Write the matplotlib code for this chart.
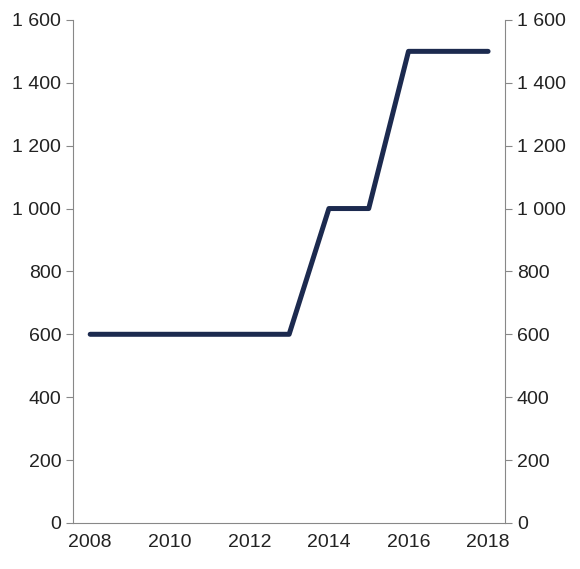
import matplotlib.pyplot as plt
from matplotlib.ticker import FuncFormatter

plt.rcParams['font.family'] = ['Liberation Sans', 'DejaVu Sans']

years = [2008, 2009, 2010, 2011, 2012, 2013, 2014, 2015, 2016, 2017, 2018]
values = [600, 600, 600, 600, 600, 600, 1000, 1000, 1500, 1500, 1500]

fig = plt.figure(figsize=(5.8, 5.69), dpi=100)
ax = fig.add_axes([0.126, 0.081, 0.745, 0.884])
ax.plot(years, values, color='#1c2a4f', lw=3.6, solid_capstyle='round', solid_joinstyle='round')

ax.set_xlim(2007.57, 2018.43)
ax.set_ylim(0, 1600)
ax.set_xticks(range(2008, 2019, 2))
ax.set_yticks(range(0, 1601, 200))
fmt = FuncFormatter(lambda v, p: f"{int(v):,}".replace(",", " "))
ax.yaxis.set_major_formatter(fmt)
ax.tick_params(axis='both', labelsize=14, colors='#222222', length=5, color='#888888')
ax.tick_params(axis='y', right=True, labelright=True)
ax.tick_params(axis='x', length=0, pad=8)
ax.spines['top'].set_visible(False)
for s in ['left', 'right', 'bottom']:
    ax.spines[s].set_color('#888888')

fig.savefig('out.png', dpi=100)
